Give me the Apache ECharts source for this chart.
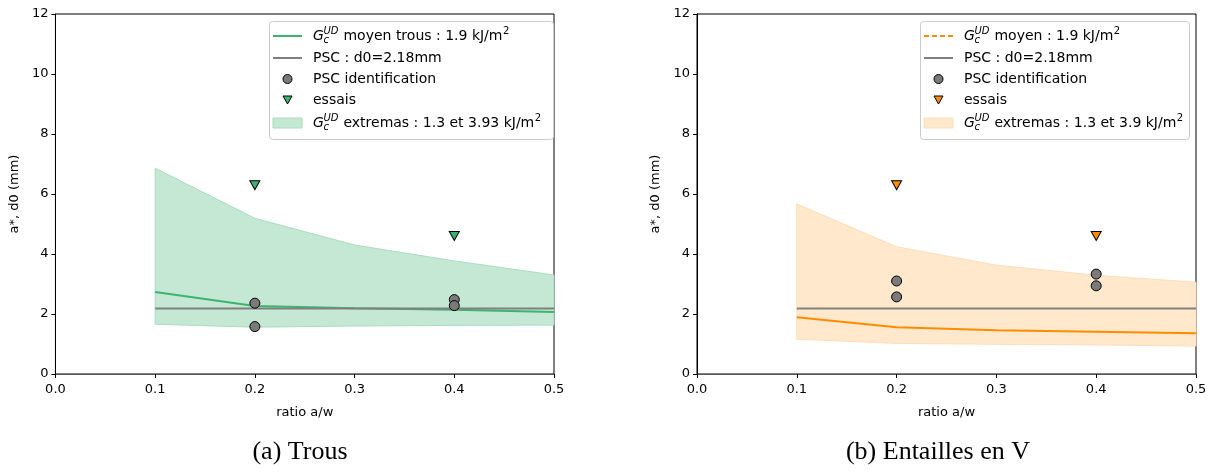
<!DOCTYPE html>
<html>
<head>
<meta charset="utf-8">
<script src="https://cdn.jsdelivr.net/npm/echarts@6/dist/echarts.min.js"></script>
<style>
html,body{margin:0;padding:0;background:#fff;}
#wrap{width:1212px;height:473px;position:relative;}
#c1{position:absolute;left:0;top:0;width:606px;height:473px;}
#c2{position:absolute;left:606px;top:0;width:606px;height:473px;}
</style>
</head>
<body>
<div id="wrap"><div id="c1"></div><div id="c2"></div></div>
<script>
// ---- data ----
const ratios = [0.1, 0.2, 0.3, 0.4, 0.5];
const xTicks = [0.0, 0.1, 0.2, 0.3, 0.4, 0.5];
const yTicks = [0, 2, 4, 6, 8, 10, 12];
const pscD0 = 2.18;
const pscRange = [0.1, 0.5];

// (a) Trous
const trousMean = [2.73, 2.27, 2.19, 2.14, 2.07];
const trousLow = [1.66, 1.56, 1.60, 1.62, 1.63];
const trousHigh = [6.86, 5.19, 4.30, 3.77, 3.30];
const trousPscX = [0.2, 0.2, 0.4, 0.4];
const trousPscY = [2.36, 1.58, 2.48, 2.28];
const trousEssaisX = [0.2, 0.4];
const trousEssaisY = [6.29, 4.60];

// (b) Entailles en V
const vMean = [1.89, 1.56, 1.46, 1.41, 1.36];
const vLow = [1.16, 1.02, 0.99, 0.97, 0.93];
const vHigh = [5.67, 4.24, 3.63, 3.29, 3.06];
const vPscX = [0.2, 0.2, 0.4, 0.4];
const vPscY = [3.10, 2.57, 3.33, 2.94];
const vEssaisX = [0.2, 0.4];
const vEssaisY = [6.29, 4.60];

const FONT = 'DejaVu Sans';
const TRI = 'path://M0,0 L10,0 L5,9 Z';
const LEG_FS = 14;

const measureCtx = document.createElement('canvas').getContext('2d');
function textW(s, size) {
  measureCtx.font = size + 'px "' + FONT + '"';
  return measureCtx.measureText(s).width;
}

function zip(a, b) { return a.map((v, i) => [v, b[i]]); }

function legendGraphics(cfg) {
  const L = cfg.legendLeft, T = 21, W = cfg.legendWidth, H = 118;
  const iconL = L + 4, iconR = L + 33, iconC = (iconL + iconR) / 2, tx = L + 44;
  const rows = [36, 58, 79, 100, 123];
  const txt = (x, y, s, size, italic) => ({
    type: 'text', x: x, y: y, z: 100,
    style: { text: s, font: (italic ? 'italic ' : '') + size + 'px "' + FONT + '"', fill: '#000', textVerticalAlign: 'middle', textAlign: 'left' }
  });
  const gcud = (x, y, rest) => [
    txt(x, y, 'G', LEG_FS, true),
    txt(x + 10.5, y + 4, 'c', 10, true),
    txt(x + 10.5, y - 5, 'UD', 10, true),
    txt(x + 26, y, rest, LEG_FS, false),
    txt(x + 26 + textW(rest, LEG_FS) + 0.5, y - 5, '2', 10, false)
  ];
  const g = [];
  g.push({ type: 'rect', z: 99, shape: { x: L + 0.5, y: T + 0.5, width: W, height: H, r: 3 }, style: { fill: 'rgba(255,255,255,0.8)', stroke: '#cccccc', lineWidth: 1 } });
  g.push({ type: 'line', z: 100, shape: { x1: iconL, y1: rows[0], x2: iconR, y2: rows[0] }, style: { stroke: cfg.color, lineWidth: 2, lineDash: cfg.legendDash ? [5, 3] : null } });
  g.push(...gcud(tx, rows[0], ' ' + cfg.meanText + ' : 1.9 kJ/m'));
  g.push({ type: 'line', z: 100, shape: { x1: iconL, y1: rows[1], x2: iconR, y2: rows[1] }, style: { stroke: '#808080', lineWidth: 2 } });
  g.push(txt(tx, rows[1], 'PSC : d0=2.18mm', LEG_FS, false));
  g.push({ type: 'circle', z: 100, shape: { cx: iconC, cy: rows[2], r: 4.5 }, style: { fill: '#7a7a7a', stroke: '#000', lineWidth: 1 } });
  g.push(txt(tx, rows[2], 'PSC identification', LEG_FS, false));
  g.push({ type: 'polygon', z: 100, shape: { points: [[iconC - 4.5, rows[3] - 4], [iconC + 4.5, rows[3] - 4], [iconC, rows[3] + 4]] }, style: { fill: cfg.color, stroke: '#000', lineWidth: 1 } });
  g.push(txt(tx, rows[3], 'essais', LEG_FS, false));
  g.push({ type: 'rect', z: 100, shape: { x: iconL, y: rows[4] - 5, width: iconR - iconL, height: 10 }, style: { fill: cfg.bandColor, stroke: cfg.bandEdge, lineWidth: 1 } });
  g.push(...gcud(tx, rows[4], ' extremas : 1.3 et ' + cfg.highText + ' kJ/m'));
  return g;
}

function makeOption(cfg) {
  const axisCommon = {
    axisLine: { show: true, lineStyle: { color: '#000', width: 1 } },
    axisTick: { show: true, inside: false, length: 4, lineStyle: { color: '#000' } },
    splitLine: { show: false },
    axisLabel: { color: '#000', fontFamily: FONT, fontSize: 13, margin: 7 },
    nameTextStyle: { color: '#000', fontFamily: FONT, fontSize: 13 }
  };
  const low = cfg.low, high = cfg.high;
  return {
    animation: false,
    backgroundColor: '#fff',
    grid: { left: cfg.gridLeft, top: 14, width: 499, height: 360, show: true, borderColor: '#000', borderWidth: 1, backgroundColor: 'transparent' },
    xAxis: Object.assign({}, axisCommon, {
      type: 'value', min: xTicks[0], max: xTicks[xTicks.length - 1], interval: 0.1,
      name: 'ratio a/w', nameLocation: 'middle', nameGap: 32,
      axisLine: { show: true, lineStyle: { color: '#555', width: 1 } },
      axisLabel: Object.assign({}, axisCommon.axisLabel, { margin: 9, formatter: v => v.toFixed(1) })
    }),
    yAxis: Object.assign({}, axisCommon, {
      type: 'value', min: yTicks[0], max: yTicks[yTicks.length - 1], interval: 2,
      name: 'a*, d0 (mm)', nameLocation: 'middle', nameGap: 22
    }),
    graphic: [{
      type: 'text', x: cfg.captionX, y: 452,
      style: { text: cfg.caption, font: '26px "Liberation Serif"', fill: '#000', textAlign: 'center', textVerticalAlign: 'middle' }
    }].concat(legendGraphics(cfg)),
    series: [
      {
        name: 'band', type: 'custom', data: ratios.map((x, i) => [x, low[i], high[i]]),
        encode: { x: 0, y: [1, 2] }, z: 1, silent: true,
        renderItem: function (params, api) {
          if (params.dataIndex !== 0) return null;
          const up = ratios.map((x, i) => api.coord([x, high[i]]));
          const dn = ratios.map((x, i) => api.coord([x, low[i]])).reverse();
          return {
            type: 'polygon', shape: { points: up.concat(dn) },
            style: { fill: cfg.bandColor, stroke: cfg.bandEdge, lineWidth: 1 }
          };
        }
      },
      {
        name: 'mean', type: 'line', data: zip(ratios, cfg.mean), symbol: 'none',
        lineStyle: { color: cfg.color, width: 2 }, itemStyle: { color: cfg.color }, z: 2
      },
      {
        name: 'psc', type: 'line', data: pscRange.map(x => [x, pscD0]), symbol: 'none',
        lineStyle: { color: '#808080', width: 2 }, itemStyle: { color: '#808080' }, z: 3
      },
      {
        name: 'ident', type: 'scatter', data: zip(cfg.pscX, cfg.pscY), symbol: 'circle', symbolSize: 10,
        itemStyle: { color: '#7a7a7a', borderColor: '#000', borderWidth: 1, opacity: 1 }, z: 4
      },
      {
        name: 'essais', type: 'scatter', data: zip(cfg.essX, cfg.essY), symbol: TRI, symbolSize: [10, 9],
        itemStyle: { color: cfg.color, borderColor: '#000', borderWidth: 1, opacity: 1 }, z: 5
      }
    ]
  };
}

const c1 = echarts.init(document.getElementById('c1'), null, { renderer: 'canvas' });
c1.setOption(makeOption({
  gridLeft: 55, legendLeft: 269, legendWidth: 284, captionX: 300, caption: '(a) Trous',
  color: '#3cb371', bandColor: 'rgb(197,232,212)', bandEdge: 'rgb(170,220,192)', legendDash: false,
  meanText: 'moyen trous', highText: '3.93',
  mean: trousMean, low: trousLow, high: trousHigh,
  pscX: trousPscX, pscY: trousPscY, essX: trousEssaisX, essY: trousEssaisY
}));

const c2 = echarts.init(document.getElementById('c2'), null, { renderer: 'canvas' });
c2.setOption(makeOption({
  gridLeft: 91, legendLeft: 314, legendWidth: 269, captionX: 332, caption: '(b) Entailles en V',
  color: '#ff8c00', bandColor: 'rgb(255,232,204)', bandEdge: 'rgb(255,222,185)', legendDash: true,
  meanText: 'moyen', highText: '3.9',
  mean: vMean, low: vLow, high: vHigh,
  pscX: vPscX, pscY: vPscY, essX: vEssaisX, essY: vEssaisY
}));
</script>
</body>
</html>
